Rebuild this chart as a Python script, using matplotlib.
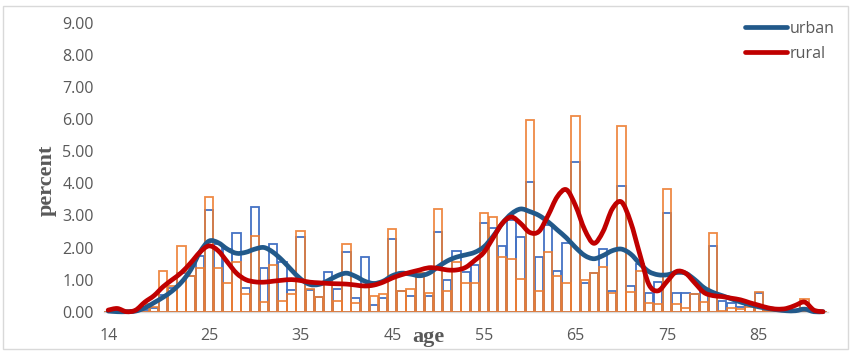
import matplotlib
matplotlib.use("Agg")
import matplotlib.pyplot as plt
from matplotlib.path import Path
from matplotlib.patches import PathPatch, Rectangle
from matplotlib.lines import Line2D
import numpy as np

ages = list(range(14, 93))

urban_bars = [0.0, 0.0, 0.0, 0.03, 0.05, 0.1, 0.52, 0.75, 1.22, 1.11,
              1.75, 3.17, 2.1, 1.95, 2.44, 0.73, 3.25, 1.37, 2.1, 1.56,
              0.67, 2.32, 0.68, 0.45, 1.23, 0.7, 1.87, 0.44, 1.71, 0.21,
              0.42, 2.28, 0.65, 0.49, 1.2, 0.49, 2.49, 1.0, 1.88, 1.25,
              1.45, 2.77, 2.6, 2.06, 2.85, 2.34, 4.05, 1.71, 2.7, 1.28,
              2.15, 4.65, 0.9, 1.22, 1.95, 0.65, 3.93, 0.8, 1.5, 0.57,
              0.93, 3.08, 0.59, 0.59, 0.55, 0.62, 2.06, 0.33, 0.26, 0.16,
              0.24, 0.59, 0.03, 0.02, 0.02, 0.02, 0.28, 0.02, 0.0]

rural_bars = [0.0, 0.05, 0.0, 0.05, 0.24, 0.15, 1.28, 0.8, 2.05, 1.1,
              1.35, 3.56, 1.36, 0.9, 1.54, 0.54, 2.35, 0.31, 1.45, 0.33,
              0.55, 2.51, 0.71, 0.47, 0.95, 0.33, 2.1, 0.26, 0.8, 0.49,
              0.54, 2.58, 0.65, 0.7, 1.22, 0.57, 3.19, 0.65, 1.55, 0.88,
              0.88, 3.06, 2.94, 1.69, 1.64, 1.02, 5.97, 0.65, 1.87, 1.12,
              0.9, 6.1, 0.99, 1.2, 1.4, 0.57, 5.78, 0.6, 1.28, 0.28,
              0.24, 3.81, 0.23, 0.12, 0.55, 0.31, 2.44, 0.03, 0.1, 0.07,
              0.15, 0.62, 0.03, 0.02, 0.02, 0.02, 0.4, 0.02, 0.0]

urban_line = [0.02, 0.0, 0.0, 0.02, 0.12, 0.28, 0.45, 0.65, 0.92, 1.3,
              1.85, 2.2, 2.15, 1.95, 1.82, 1.85, 1.95, 2.0, 1.85, 1.6,
              1.3, 1.02, 0.85, 0.85, 0.97, 1.12, 1.2, 1.1, 0.95, 0.88,
              0.95, 1.12, 1.2, 1.17, 1.12, 1.2, 1.4, 1.58, 1.7, 1.77,
              1.85, 2.02, 2.35, 2.75, 3.05, 3.2, 3.12, 3.0, 2.8, 2.55,
              2.3, 2.0, 1.75, 1.65, 1.75, 1.9, 1.95, 1.8, 1.5, 1.25,
              1.15, 1.15, 1.22, 1.2, 1.0, 0.75, 0.6, 0.5, 0.4, 0.3,
              0.22, 0.15, 0.1, 0.06, 0.03, 0.03, 0.08, 0.0, 0.0]

rural_line = [0.05, 0.1, 0.0, 0.05, 0.3, 0.5, 0.78, 1.0, 1.22, 1.52,
              1.85, 2.05, 1.9, 1.55, 1.2, 1.0, 0.93, 0.92, 0.95, 0.98,
              1.0, 0.97, 0.92, 0.9, 0.88, 0.87, 0.86, 0.83, 0.8, 0.83,
              0.92, 1.05, 1.15, 1.23, 1.3, 1.37, 1.35, 1.3, 1.3, 1.38,
              1.6, 1.85, 2.3, 2.75, 2.95, 2.75, 2.47, 2.5, 3.0, 3.58,
              3.8, 3.3, 2.55, 2.13, 2.5, 3.2, 3.42, 2.8, 1.8, 0.85,
              0.65, 0.95, 1.25, 1.2, 0.9, 0.6, 0.5, 0.47, 0.42, 0.37,
              0.28, 0.2, 0.12, 0.08, 0.1, 0.2, 0.3, 0.05, 0.0]

series_names = ["urban", "rural"]
x_ticks = [14, 25, 35, 45, 55, 65, 75, 85]
y_ticks = [0, 1, 2, 3, 4, 5, 6, 7, 8, 9]

BLUE_BAR = "#4472C4"
ORANGE_BAR = "#ED7D31"
URBAN_LINE = "#22598A"
RURAL_LINE = "#C00000"
TXT = "#595959"

fig = plt.figure(figsize=(8.52, 3.51), dpi=100)
ax = fig.add_axes([103.6 / 852, 1 - 311.7 / 351, (827.6 - 103.6) / 852, (311.7 - 22.8) / 351])

ax.bar(ages, urban_bars, width=0.92, fill=False, edgecolor=BLUE_BAR, linewidth=1.3, zorder=2)
ax.bar(ages, rural_bars, width=0.92, fill=False, edgecolor=ORANGE_BAR, linewidth=1.3, alpha=0.9, zorder=3)


def smooth_path(xs, ys):
    xs = np.asarray(xs, float)
    ys = np.asarray(ys, float)
    n = len(xs)
    verts = [(xs[0], ys[0])]
    codes = [Path.MOVETO]
    for i in range(n - 1):
        i0 = i - 1 if i > 0 else i
        i3 = i + 2 if i + 2 < n else i + 1
        c1 = (xs[i] + (xs[i + 1] - xs[i0]) / 6, ys[i] + (ys[i + 1] - ys[i0]) / 6)
        c2 = (xs[i + 1] - (xs[i3] - xs[i]) / 6, ys[i + 1] - (ys[i3] - ys[i]) / 6)
        verts += [c1, c2, (xs[i + 1], ys[i + 1])]
        codes += [Path.CURVE4] * 3
    return Path(verts, codes)


for vals, col, z in [(urban_line, URBAN_LINE, 4), (rural_line, RURAL_LINE, 5)]:
    patch = PathPatch(smooth_path(ages, vals), fill=False, edgecolor=col, linewidth=3.4,
                      capstyle="round", joinstyle="round", zorder=z, clip_on=False)
    ax.add_patch(patch)

ax.set_xlim(13.5, 92.5)
ax.set_ylim(0, 9)
ax.set_yticks(y_ticks)
ax.set_yticklabels([f"{v:.2f}" for v in y_ticks])
ax.set_xticks(x_ticks)
ax.set_xticklabels([str(v) for v in x_ticks])
ax.tick_params(axis="both", length=0, labelcolor=TXT, labelsize=11.5)
ax.tick_params(axis="x", pad=12)
ax.tick_params(axis="y", pad=7)
for lbl in ax.get_xticklabels() + ax.get_yticklabels():
    lbl.set_fontfamily("Open Sans")
for s in ["top", "right", "left"]:
    ax.spines[s].set_visible(False)
ax.spines["bottom"].set_color("#D9D9D9")
ax.spines["bottom"].set_linewidth(1.0)

fig.text(47 / 852, 1 - 180 / 351, "percent", rotation=90, ha="center", va="center",
         fontfamily="Liberation Serif", fontweight="bold", fontsize=16, color=TXT)
fig.text(428 / 852, 1 - 337 / 351, "age", ha="center", va="center",
         fontfamily="Liberation Serif", fontweight="bold", fontsize=16, color=TXT)

handles = [Line2D([], [], color=URBAN_LINE, lw=3.4, solid_capstyle="round"),
           Line2D([], [], color=RURAL_LINE, lw=3.4, solid_capstyle="round")]
leg = fig.legend(handles, series_names, loc="upper left", bbox_to_anchor=(745 / 852, 1 - 21 / 351),
                 frameon=False, handlelength=2.6, handletextpad=0.2, labelspacing=0.55,
                 borderpad=0, borderaxespad=0, prop={"family": "Open Sans", "size": 11.5})
for t in leg.get_texts():
    t.set_color(TXT)

fig.patches.append(Rectangle((3 / 852, 2 / 351), 845 / 852, 343 / 351, transform=fig.transFigure,
                             fill=False, edgecolor="#D9D9D9", linewidth=1.0))

fig.savefig("out.png", dpi=100)
